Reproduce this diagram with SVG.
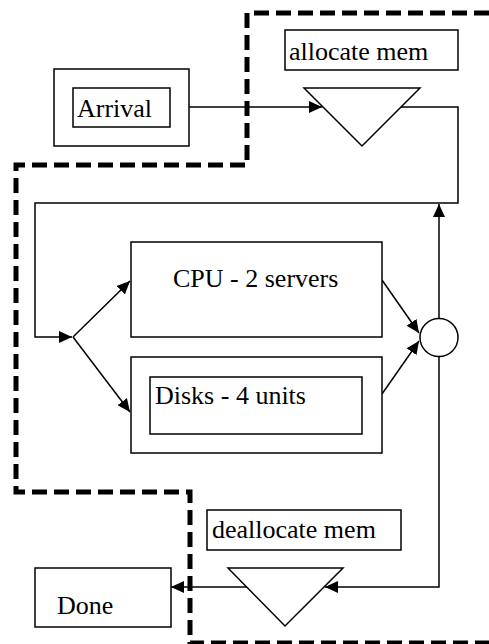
<svg xmlns="http://www.w3.org/2000/svg" width="489" height="644" viewBox="0 0 489 644">
  <style>
    .box { fill: #fff; stroke: #000; stroke-width: 1.5; }
    .lbl { font-family: 'Liberation Serif', 'DejaVu Serif', serif; font-size: 26px; fill: #000; }
    .wire { fill: none; stroke: #000; stroke-width: 1.5; }
    .bound { fill: none; stroke: #000; stroke-width: 5; stroke-dasharray: 15 7; }
  </style>
  <defs>
    <marker id="arrow" markerUnits="userSpaceOnUse" markerWidth="14" markerHeight="12" refX="13" refY="6" orient="auto">
      <path d="M0,0 L13,6 L0,12 Z" fill="#000"/>
    </marker>
  </defs>
  <rect width="489" height="644" fill="#fff"/>

  <!-- dashed boundary -->
  <path class="bound" d="M489,13 H247 V165 H16 V492 H190 V643 H489"/>

  <g id="connectors">
    <line class="wire" x1="189" y1="107" x2="322" y2="107" marker-end="url(#arrow)"/>
    <path class="wire" d="M401,107 H458 V203 H35 V337 H72" marker-end="url(#arrow)"/>
    <line class="wire" x1="73" y1="337" x2="130" y2="281" marker-end="url(#arrow)"/>
    <line class="wire" x1="73" y1="337" x2="130" y2="412" marker-end="url(#arrow)"/>
    <line class="wire" x1="382" y1="280" x2="419" y2="333" marker-end="url(#arrow)"/>
    <line class="wire" x1="382" y1="394" x2="419" y2="341" marker-end="url(#arrow)"/>
    <line class="wire" x1="439" y1="318" x2="439" y2="204" marker-end="url(#arrow)"/>
    <path class="wire" d="M439,357 V587 H325" marker-end="url(#arrow)"/>
    <line class="wire" x1="247" y1="587" x2="171" y2="587" marker-end="url(#arrow)"/>
  </g>

  <g id="arrival">
    <rect class="box" x="54" y="69" width="135" height="77"/>
    <rect class="box" x="73" y="88" width="97" height="39"/>
    <text class="lbl" x="77" y="117" font-family="Liberation Serif, serif">Arrival</text>
  </g>

  <g id="allocate">
    <rect class="box" x="285" y="30" width="173" height="40"/>
    <text class="lbl" x="289" y="60" font-family="Liberation Serif, serif">allocate mem</text>
    <path class="box" d="M304,88 H420 L362,146 Z"/>
  </g>

  <g id="cpu">
    <rect class="box" x="131" y="242" width="251" height="95"/>
    <text class="lbl" x="173" y="287" font-family="Liberation Serif, serif">CPU - 2 servers</text>
  </g>

  <g id="disks">
    <rect class="box" x="131" y="357" width="251" height="96"/>
    <rect class="box" x="150" y="377" width="212" height="57"/>
    <text class="lbl" x="155" y="404" font-family="Liberation Serif, serif">Disks - 4 units</text>
  </g>

  <g id="join">
    <circle class="box" cx="439" cy="337.5" r="19"/>
  </g>

  <g id="deallocate">
    <rect class="box" x="207" y="510" width="194" height="40"/>
    <text class="lbl" x="212" y="538" font-family="Liberation Serif, serif">deallocate mem</text>
    <path class="box" d="M228,568 H343 L285,626 Z"/>
  </g>

  <g id="done">
    <rect class="box" x="35" y="568" width="136" height="59"/>
    <text class="lbl" x="57" y="614" font-family="Liberation Serif, serif">Done</text>
  </g>
</svg>
